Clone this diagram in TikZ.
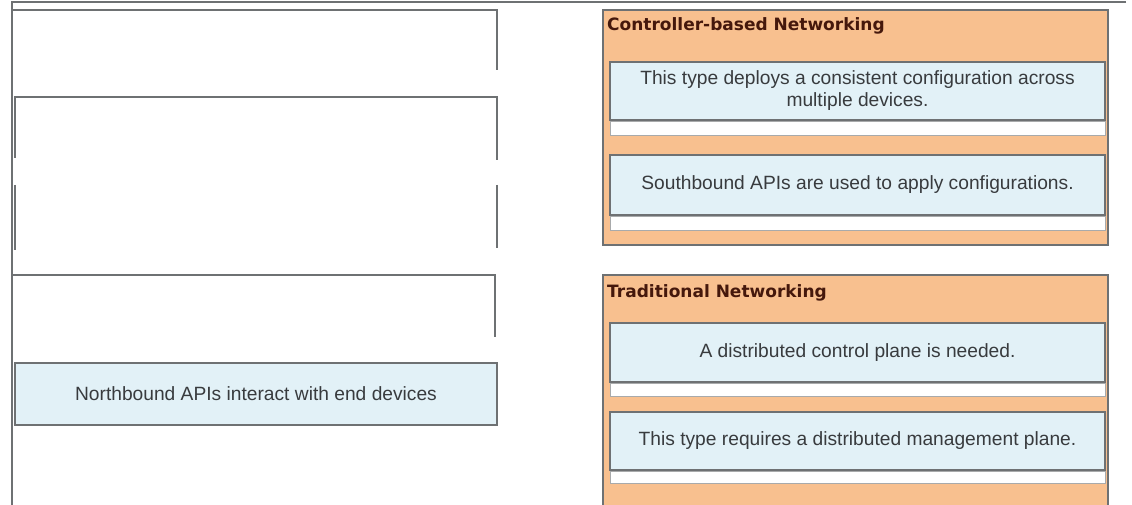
\documentclass[tikz,border=0pt]{standalone}
\usepackage{fontspec}
\setmainfont{Liberation Sans}
\newfontfamily\titlefont{DejaVu Sans}
\definecolor{org}{HTML}{F8C08F}
\definecolor{lblue}{HTML}{E2F1F7}
\definecolor{edge}{HTML}{6E7173}
\definecolor{titlec}{HTML}{45180C}
\definecolor{txt}{HTML}{383B3E}
\begin{document}
\begin{tikzpicture}[x=1pt,y=-1pt,
  area/.style={anchor=north west, inner sep=0pt, outer sep=0pt},
  slotline/.style={draw=edge, line width=1.8pt},
  panel/.style={area, fill=org, draw=edge, line width=1.4pt},
  dropbox/.style={area, fill=lblue, draw=edge, line width=1.6pt},
  strip/.style={area, fill=white, draw=edge!60, line width=0.6pt},
  title/.style={anchor=west, inner sep=0pt, font=\titlefont\fontsize{17}{20}\selectfont\bfseries, text=titlec},
  label/.style={inner sep=0pt, align=center, font=\fontsize{19.2}{22}\selectfont, text=txt}]
\useasboundingbox (0,0) rectangle (1132,505);
\fill[white] (0,0) rectangle (1132,505);

% frame lines
\coordinate (tl) at (12,2);
\coordinate (tr) at (1126,2);
\coordinate (bl) at (12,505);
\draw[edge, line width=2.2pt] (tr) -- (tl) -- (bl);

% left empty slots
\node[area, minimum width=484pt, minimum height=87pt] (s1) at (13,10) {};
\node[area, minimum width=482pt, minimum height=88pt] (s2) at (15,97) {};
\node[area, minimum width=482pt, minimum height=65pt] (s3) at (15,185) {};
\node[area, minimum width=482pt, minimum height=62pt] (s4) at (13,275) {};
\draw[slotline] (s1.north west) -- (s1.north east) -- ([yshift=-60pt]s1.north east);
\draw[slotline] ([yshift=-61pt]s2.north west) -- (s2.north west) -- (s2.north east) -- ([yshift=-63pt]s2.north east);
\draw[slotline] (s3.north west) -- (s3.south west);
\draw[slotline] (s3.north east) -- ([yshift=2pt]s3.south east);
\draw[slotline] (s4.north west) -- (s4.north east) -- (s4.south east);

% left filled answer
\node[dropbox, minimum width=482pt, minimum height=62pt] (nb) at (15,363) {};
\node[label] (nbt) at (nb.center) {Northbound APIs interact with end devices};

% right panel 1
\node[panel, minimum width=505pt, minimum height=235pt] (p1) at (603,10) {};
\node[title] (p1t) at ([xshift=4pt,yshift=-16pt]p1.north west) {Controller-based Networking};
\node[dropbox, minimum width=495pt, minimum height=58pt] (a1) at (610,62) {};
\node[strip, minimum width=495pt, minimum height=14pt] (a1s) at (610,121) {};
\node[label] (a1t) at (a1.center) {This type deploys a consistent configuration across\\multiple devices.};
\node[dropbox, minimum width=495pt, minimum height=60pt] (a2) at (610,155) {};
\node[strip, minimum width=495pt, minimum height=14pt] (a2s) at (610,216) {};
\node[label] (a2t) at (a2.center) {Southbound APIs are used to apply configurations.};

% right panel 2
\node[panel, minimum width=505pt, minimum height=245pt] (p2) at (603,275) {};
\node[title] (p2t) at ([xshift=4pt,yshift=-18pt]p2.north west) {Traditional Networking};
\node[dropbox, minimum width=495pt, minimum height=59pt] (b1) at (610,323) {};
\node[strip, minimum width=495pt, minimum height=13pt] (b1s) at (610,383) {};
\node[label] (b1t) at (b1.center) {A distributed control plane is needed.};
\node[dropbox, minimum width=495pt, minimum height=58pt] (b2) at (610,412) {};
\node[strip, minimum width=495pt, minimum height=12pt] (b2s) at (610,471) {};
\node[label] (b2t) at (b2.center) {This type requires a distributed management plane.};
\end{tikzpicture}
\end{document}
